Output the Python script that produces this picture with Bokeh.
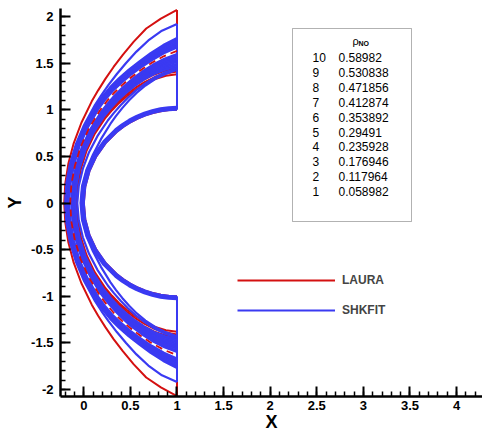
import numpy as np
from bokeh.plotting import figure
from bokeh.models import (Legend, LegendItem, Label, BoxAnnotation, Range1d,
                          SingleIntervalTicker)
from bokeh.embed import file_html
from bokeh.resources import INLINE

# ---------------- data ----------------
# angle around the nose centre (1, 0): 0 = stagnation line, 90 = shoulder (x = 1)
phi_deg = [0, 10, 20, 30, 40, 50, 55, 60, 65, 70, 75, 80, 85, 90]

# LAURA (red): shock and rho_NO contour lines, radius from (1, 0)
laura_shock = [1.21, 1.217, 1.24, 1.28, 1.339, 1.423, 1.475, 1.537, 1.61, 1.694, 1.792, 1.90, 1.985, 2.07]
laura_c1 = [1.146, 1.151, 1.166, 1.196, 1.237, 1.291, 1.323, 1.359, 1.395, 1.436, 1.48, 1.53, 1.582, 1.632]
laura_c2 = [1.118, 1.123, 1.138, 1.164, 1.20, 1.25, 1.278, 1.31, 1.345, 1.384, 1.424, 1.468, 1.508, 1.546]
laura_c3 = [1.095, 1.10, 1.115, 1.14, 1.175, 1.22, 1.245, 1.275, 1.305, 1.338, 1.37, 1.40, 1.425, 1.44]
laura_c4 = [1.085, 1.09, 1.105, 1.13, 1.163, 1.205, 1.228, 1.255, 1.283, 1.313, 1.343, 1.372, 1.395, 1.41]
laura_c5 = [1.075, 1.08, 1.095, 1.12, 1.153, 1.193, 1.215, 1.24, 1.266, 1.294, 1.322, 1.35, 1.37, 1.38]
laura_body = [1.0, 1.0, 1.0, 1.0, 1.0, 1.0, 1.0, 1.0, 1.0, 1.0, 1.0, 1.0, 1.0, 1.0]

# SHKFIT (blue)
shkfit_shock = [1.20, 1.206, 1.223, 1.254, 1.302, 1.37, 1.414, 1.466, 1.527, 1.598, 1.681, 1.77, 1.855, 1.92]
# outer group of the band
shkfit_c1 = [1.19, 1.197, 1.214, 1.245, 1.292, 1.357, 1.395, 1.435, 1.475, 1.52, 1.57, 1.632, 1.70, 1.77]
shkfit_c2 = [1.185, 1.19, 1.205, 1.239, 1.284, 1.348, 1.385, 1.424, 1.463, 1.509, 1.558, 1.618, 1.686, 1.753]
shkfit_c3 = [1.179, 1.184, 1.199, 1.233, 1.278, 1.341, 1.377, 1.416, 1.454, 1.499, 1.547, 1.605, 1.671, 1.736]
shkfit_c4 = [1.174, 1.179, 1.194, 1.228, 1.272, 1.334, 1.37, 1.408, 1.445, 1.489, 1.537, 1.593, 1.656, 1.719]
shkfit_c5 = [1.168, 1.173, 1.188, 1.222, 1.266, 1.327, 1.362, 1.40, 1.436, 1.479, 1.526, 1.58, 1.641, 1.701]
shkfit_c6 = [1.163, 1.168, 1.183, 1.216, 1.26, 1.32, 1.355, 1.392, 1.428, 1.47, 1.515, 1.568, 1.627, 1.684]
shkfit_c7 = [1.157, 1.162, 1.177, 1.21, 1.253, 1.313, 1.347, 1.384, 1.419, 1.46, 1.504, 1.555, 1.612, 1.667]
# inner group of the band
shkfit_c8 = [1.134, 1.139, 1.154, 1.182, 1.219, 1.271, 1.30, 1.334, 1.371, 1.413, 1.457, 1.505, 1.553, 1.598]
shkfit_c9 = [1.129, 1.134, 1.149, 1.176, 1.213, 1.264, 1.293, 1.326, 1.362, 1.403, 1.446, 1.493, 1.538, 1.581]
shkfit_c10 = [1.123, 1.128, 1.143, 1.17, 1.207, 1.257, 1.285, 1.318, 1.353, 1.393, 1.435, 1.48, 1.523, 1.563]
shkfit_c11 = [1.118, 1.123, 1.138, 1.164, 1.201, 1.25, 1.278, 1.31, 1.345, 1.384, 1.424, 1.468, 1.509, 1.546]
shkfit_c12 = [1.112, 1.117, 1.132, 1.158, 1.194, 1.243, 1.27, 1.302, 1.336, 1.374, 1.413, 1.455, 1.494, 1.529]
shkfit_c13 = [1.107, 1.112, 1.127, 1.153, 1.188, 1.236, 1.263, 1.294, 1.327, 1.364, 1.403, 1.443, 1.479, 1.512]
shkfit_c14 = [1.101, 1.106, 1.121, 1.147, 1.182, 1.229, 1.255, 1.286, 1.318, 1.354, 1.392, 1.43, 1.464, 1.494]
shkfit_c15 = [1.096, 1.101, 1.116, 1.141, 1.176, 1.222, 1.248, 1.278, 1.309, 1.345, 1.381, 1.418, 1.45, 1.477]
shkfit_c16 = [1.09, 1.095, 1.11, 1.135, 1.17, 1.215, 1.24, 1.27, 1.30, 1.335, 1.37, 1.405, 1.435, 1.46]
# lines close to the body
shkfit_c17 = [1.07, 1.07, 1.075, 1.09, 1.115, 1.155, 1.18, 1.21, 1.245, 1.285, 1.325, 1.37, 1.41, 1.445]
shkfit_c18 = [1.035, 1.035, 1.035, 1.04, 1.065, 1.11, 1.14, 1.175, 1.215, 1.26, 1.305, 1.35, 1.39, 1.43]
shkfit_body1 = [1.03, 1.03, 1.03, 1.03, 1.03, 1.03, 1.03, 1.03, 1.03, 1.03, 1.03, 1.03, 1.03, 1.03]
shkfit_body2 = [1.015, 1.015, 1.015, 1.015, 1.015, 1.015, 1.015, 1.015, 1.015, 1.015, 1.015, 1.015, 1.015, 1.015]
shkfit_body = [1.0, 1.0, 1.0, 1.0, 1.0, 1.0, 1.0, 1.0, 1.0, 1.0, 1.0, 1.0, 1.0, 1.0]

# contour level table
level_index = ["10", "9", "8", "7", "6", "5", "4", "3", "2", "1"]
level_value = ["0.58982", "0.530838", "0.471856", "0.412874", "0.353892",
               "0.29491", "0.235928", "0.176946", "0.117964", "0.058982"]

x_ticks = [0, 0.5, 1, 1.5, 2, 2.5, 3, 3.5, 4]
x_tick_labels = ["0", "0.5", "1", "1.5", "2", "2.5", "3", "3.5", "4"]
y_ticks = [-2, -1.5, -1, -0.5, 0, 0.5, 1, 1.5, 2]
y_tick_labels = ["-2", "-1.5", "-1", "-0.5", "0", "0.5", "1", "1.5", "2"]

series_names = ["LAURA", "SHKFIT"]

# ---------------- helpers ----------------
RED = "#d41010"
BLUE = "#3a3af2"
FONT = "Liberation Sans"


def closed_path(r):
    """upper half (shoulder -> stagnation line) + mirrored lower half"""
    ph = np.radians(np.array(phi_deg[::-1] + [-a for a in phi_deg[1:]], dtype=float))
    rr = np.array(r[::-1] + r[1:], dtype=float)
    return list(1.0 - rr * np.cos(ph)), list(rr * np.sin(ph))


laura_solid = [laura_shock, laura_c2, laura_c3, laura_c4, laura_c5, laura_body]
shkfit_lines = [shkfit_shock, shkfit_c1, shkfit_c2, shkfit_c3, shkfit_c4,
                shkfit_c5, shkfit_c6, shkfit_c7, shkfit_c8, shkfit_c9,
                shkfit_c10, shkfit_c11, shkfit_c12, shkfit_c13, shkfit_c14,
                shkfit_c15, shkfit_c16, shkfit_c17, shkfit_c18,
                shkfit_body1, shkfit_body2, shkfit_body]

# ---------------- figure ----------------
X0, X1 = -0.25, 4.278
Y0, Y1 = -2.075, 2.086
FL, FR, FT, FB = 60.0, 482.0, 8.0, 396.0   # frame edges on the page (px)

p = figure(width=482, height=434, output_backend="svg", toolbar_location=None,
           x_range=Range1d(X0, X1), y_range=Range1d(Y0, Y1),
           min_border_left=60, min_border_right=0, min_border_top=8,
           min_border_bottom=38)
p.outline_line_color = None
p.grid.visible = False
p.background_fill_color = "white"
p.border_fill_color = "white"

# red (LAURA) first, blue drawn over it
lx, ly = zip(*[closed_path(r) for r in laura_solid])
r_red = p.multi_line(list(lx), list(ly), line_color=RED, line_width=2)
p.segment(x0=[1, 1], y0=[laura_shock[-1], -laura_shock[-1]],
          x1=[1, 1], y1=[laura_c5[-1], -laura_c5[-1]],
          line_color=RED, line_width=2)

bx, by = zip(*[closed_path(r) for r in shkfit_lines])
r_blue = p.multi_line(list(bx), list(by), line_color=BLUE, line_width=2.2)
p.segment(x0=[1, 1], y0=[shkfit_shock[-1], -shkfit_shock[-1]],
          x1=[1, 1], y1=[shkfit_body[-1], -shkfit_body[-1]],
          line_color=BLUE, line_width=2)

# LAURA contour running in the gap of the SHKFIT band (seen as broken pieces)
gx, gy = closed_path(laura_c1)
p.line(gx, gy, line_color=RED, line_width=1.8, line_dash="7 5")

# ---------------- axes ----------------
for ax, ticks, labels, name in ((p.xaxis[0], x_ticks, x_tick_labels, "X"),
                                (p.yaxis[0], y_ticks, y_tick_labels, "Y")):
    ax.ticker = SingleIntervalTicker(interval=0.5, num_minor_ticks=5)
    ax.major_label_overrides = {t: l for t, l in zip(ticks, labels)}
    ax.axis_label = name
    ax.axis_label_text_font = FONT
    ax.axis_label_text_font_style = "bold"
    ax.axis_label_text_font_size = "18px"
    ax.axis_label_text_color = "black"
    ax.major_label_text_font = FONT
    ax.major_label_text_font_size = "13px"
    ax.major_label_text_font_style = "bold"
    ax.major_label_text_color = "black"
    ax.axis_line_width = 2.5
    ax.axis_line_color = "black"
    ax.major_tick_in = 10
    ax.major_tick_out = 0
    ax.minor_tick_in = 5
    ax.minor_tick_out = 0
    ax.major_tick_line_width = 2
    ax.minor_tick_line_width = 1.5
    ax.major_tick_line_color = "black"
    ax.minor_tick_line_color = "black"

p.xaxis.major_label_standoff = 4
p.xaxis.axis_label_standoff = -1
p.yaxis.major_label_standoff = 7
p.yaxis.axis_label_standoff = 3


def px2x(px):
    return X0 + (px - FL) * (X1 - X0) / (FR - FL)


def py2y(py):
    return Y1 - (py - FT) * (Y1 - Y0) / (FB - FT)


# ---------------- level table ----------------
p.add_layout(BoxAnnotation(left=px2x(292), right=px2x(411), top=py2y(28),
                           bottom=py2y(221), fill_color="white", fill_alpha=1.0,
                           line_color="black", line_width=1))
p.add_layout(Label(x=px2x(352), y=py2y(40), text="ρ", text_font=FONT,
                   text_font_size="11px", text_baseline="middle",
                   text_color="black"))
p.add_layout(Label(x=px2x(358), y=py2y(43), text="NO", text_font=FONT,
                   text_font_size="7px", text_font_style="bold",
                   text_baseline="middle", text_color="black"))
for i, (k, v) in enumerate(zip(level_index, level_value)):
    yy = py2y(57 + 14.9 * i)
    p.add_layout(Label(x=px2x(312), y=yy, text=k, text_font=FONT,
                       text_font_size="12px", text_baseline="middle",
                       text_color="black"))
    p.add_layout(Label(x=px2x(338), y=yy, text=v, text_font=FONT,
                       text_font_size="12px", text_baseline="middle",
                       text_color="black"))

# ---------------- legend ----------------
legend = Legend(items=[LegendItem(label=series_names[0], renderers=[r_red]),
                       LegendItem(label=series_names[1], renderers=[r_blue])],
                location=(177, 76), glyph_width=98, glyph_height=20,
                spacing=10, padding=0, margin=0, label_standoff=7,
                border_line_color=None, background_fill_alpha=0,
                label_text_font=FONT, label_text_font_style="bold",
                label_text_font_size="12px", label_height=20)
p.add_layout(legend)

open("out.html", "w").write(file_html(p, INLINE))
